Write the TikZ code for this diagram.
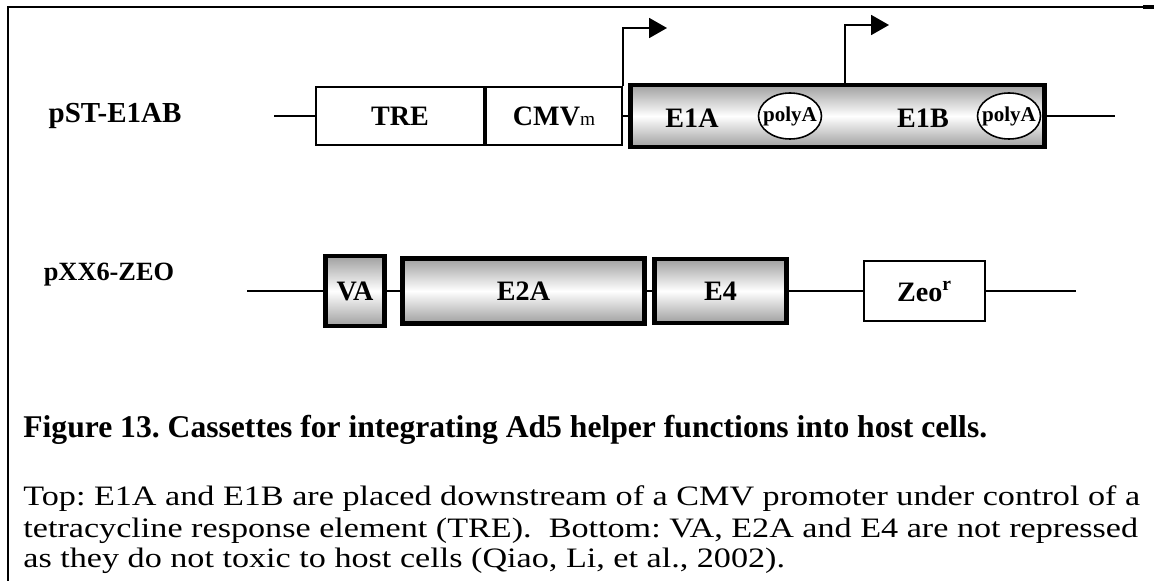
\documentclass[tikz,border=0pt]{standalone}
\usepackage{fontspec}
\setmainfont{Liberation Serif}
\newfontfamily\capfont[FakeStretch=1.215]{Liberation Serif}
\usetikzlibrary{arrows.meta,shapes.geometric}
\frenchspacing
\tikzset{
  plain/.style={draw,line width=1.1pt,fill=white,inner sep=0pt,font=\fontsize{16}{18}\selectfont\bfseries},
  gene/.style={draw,line width=2.8pt,inner sep=0pt,top color=gray!75,bottom color=gray!75,middle color=white,font=\fontsize{16}{18}\selectfont\bfseries},
  genetext/.style={inner sep=0pt,font=\fontsize{16}{18}\selectfont\bfseries},
  polya/.style={draw,ellipse,line width=0.9pt,fill=white,inner sep=0pt,minimum width=1.26cm,minimum height=0.92cm,font=\fontsize{12}{14}\selectfont\bfseries},
  dna/.style={line width=1.1pt},
  tss/.style={line width=1.1pt,-{Triangle[length=0.36cm,width=0.4cm]}},
  plasmid/.style={font=\fontsize{15}{18}\selectfont\bfseries},
  caption/.style={anchor=base west,inner sep=0pt,font=\capfont\fontsize{16}{18}\selectfont}
}
\begin{document}
\begin{tikzpicture}[x=0.02cm,y=-0.02cm]
\useasboundingbox (0,0) rectangle (1154,581);
\draw[line width=1.2pt] (8,581) -- (8,7) -- (1154,7);
\draw[line width=2pt] (1143,7) -- (1154,7);

% top cassette
\node [plasmid,font=\fontsize{16.5}{18}\selectfont\bfseries] (pst) at (115,116) {pST-E1AB};
\node [plain,minimum width=3.36cm,minimum height=1.16cm] (tre) at (400,116) {TRE};
\node [plain,minimum width=2.72cm,minimum height=1.16cm] (cmv) at (554,116) {CMV{\fontsize{11}{12}\selectfont\mdseries m}};
\node [gene,minimum width=8.28cm,minimum height=1.24cm] (e1ab) at (837.5,116) {};
\node [genetext] (e1a) at (692,118) {E1A};
\node [polya] (pa1) at (790,116) {\makebox[0pt]{polyA}};
\node [genetext] (e1b) at (923,118) {E1B};
\node [polya] (pa2) at (1009,116) {\makebox[0pt]{polyA}};
\coordinate (l1) at (274,116);
\coordinate (r1) at (1115,116);
\draw[dna] (l1) -- (tre.west) (cmv.east) -- (e1ab.west) (e1ab.east) -- (r1);
\coordinate (tip1) at (667,28);
\draw[tss] (cmv.north east) |- (tip1);
\coordinate (bend2) at (845,25);
\coordinate (tip2) at (889,25);
\draw[tss] (e1ab.north -| bend2) -- (bend2) -- (tip2);

% bottom cassette
\node [plasmid] (pxx) at (109,275) {pXX6-ZEO};
\node [gene,minimum width=1.18cm,minimum height=1.4cm] (va) at (355,291) {VA};
\node [gene,minimum width=4.84cm,minimum height=1.3cm] (e2a) at (523.5,291) {E2A};
\node [gene,minimum width=2.64cm,minimum height=1.28cm] (e4) at (720.5,291) {E4};
\node [plain,minimum width=2.42cm,minimum height=1.2cm] (zeo) at (924.5,291) {Zeo\textsuperscript{r}};
\coordinate (l2) at (247,291);
\coordinate (r2) at (1076,291);
\draw[dna] (l2) -- (va.west) (va.east) -- (e2a.west) (e2a.east) -- (e4.west) (e4.east) -- (zeo.west) (zeo.east) -- (r2);

% caption
\node [caption,font=\fontsize{18}{20}\selectfont\bfseries] (title) at (23,437) {Figure 13. Cassettes for integrating Ad5 helper functions into host cells.};
\node [caption] (body1) at (23,505) {Top: E1A and E1B are placed downstream of a CMV promoter under control of a};
\node [caption] (body2) at (23,537) {tetracycline response element (TRE).\ \ Bottom: VA, E2A and E4 are not repressed};
\node [caption] (body3) at (23,567) {as they do not toxic to host cells (Qiao, Li, et al., 2002).};
\end{tikzpicture}
\end{document}
